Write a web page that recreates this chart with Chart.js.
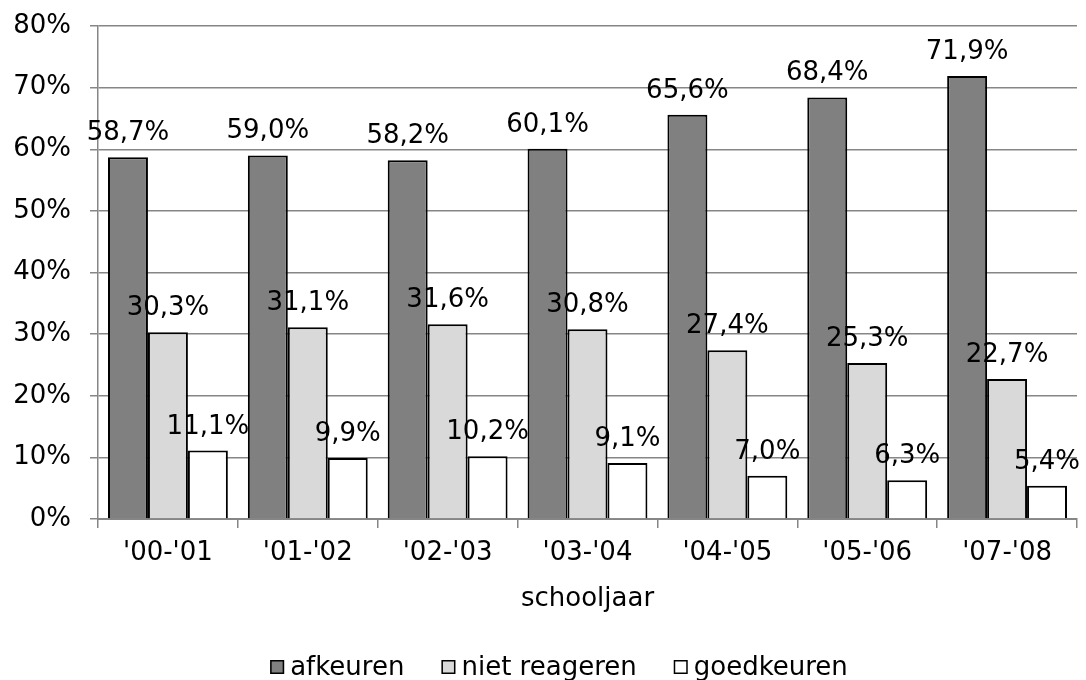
<!DOCTYPE html>
<html>
<head>
<meta charset="utf-8">
<script src="https://cdn.jsdelivr.net/npm/chart.js@4.4.1/dist/chart.umd.min.js"></script>
<style>
html,body{margin:0;padding:0;background:#fff;}
#wrap{width:1086px;height:680px;position:relative;}
</style>
</head>
<body>
<div id="wrap"><canvas id="c" width="1086" height="680"></canvas></div>
<script>
const categories = ["'00-'01", "'01-'02", "'02-'03", "'03-'04", "'04-'05", "'05-'06", "'07-'08"];
const afkeuren = [58.7, 59.0, 58.2, 60.1, 65.6, 68.4, 71.9];
const nietReageren = [30.3, 31.1, 31.6, 30.8, 27.4, 25.3, 22.7];
const goedkeuren = [11.1, 9.9, 10.2, 9.1, 7.0, 6.3, 5.4];
const seriesNames = ["afkeuren", "niet reageren", "goedkeuren"];
const xTitle = "schooljaar";

const FONT = "'DejaVu Sans', Verdana, sans-serif";
const FS = 26;

const labelPlugin = {
  id: 'valueLabels',
  afterDatasetsDraw(chart) {
    const ctx = chart.ctx;
    ctx.save();
    ctx.font = FS + 'px ' + FONT;
    ctx.fillStyle = '#000';
    ctx.textAlign = 'center';
    ctx.textBaseline = 'alphabetic';
    chart.data.datasets.forEach((ds, i) => {
      const meta = chart.getDatasetMeta(i);
      meta.data.forEach((bar, j) => {
        const v = ds.data[j];
        const txt = v.toFixed(1).replace('.', ',') + '%';
        ctx.fillText(txt, bar.x, bar.y - 17);
      });
    });
    ctx.restore();
  }
};

const legendPlugin = {
  id: 'customLegend',
  afterDraw(chart) {
    const ctx = chart.ctx;
    ctx.save();
    ctx.font = FS + 'px ' + FONT;
    const box = 14, gapBox = 6, gapItem = 37;
    const items = chart.data.datasets.map(ds => ({text: ds.label, fill: ds.backgroundColor, w: ctx.measureText(ds.label).width}));
    let total = 0;
    items.forEach((it, k) => { total += box + gapBox + it.w + (k < items.length - 1 ? gapItem : 0); });
    let x = 559 - total / 2;
    const base = 675;
    items.forEach(it => {
      ctx.fillStyle = it.fill;
      ctx.fillRect(x, base - 15, box, box);
      ctx.strokeStyle = '#000';
      ctx.lineWidth = 1.5;
      ctx.strokeRect(x + 0.75, base - 15 + 0.75, box - 1.5, box - 1.5);
      ctx.fillStyle = '#000';
      ctx.textAlign = 'left';
      ctx.textBaseline = 'alphabetic';
      ctx.fillText(it.text, x + box + gapBox, base);
      x += box + gapBox + it.w + gapItem;
    });
    ctx.restore();
  }
};

new Chart(document.getElementById('c'), {
  type: 'bar',
  data: {
    labels: categories,
    datasets: [
      {label: seriesNames[0], data: afkeuren, backgroundColor: '#808080', borderColor: '#000', borderWidth: 2},
      {label: seriesNames[1], data: nietReageren, backgroundColor: '#d9d9d9', borderColor: '#000', borderWidth: 2},
      {label: seriesNames[2], data: goedkeuren, backgroundColor: '#ffffff', borderColor: '#000', borderWidth: 2}
    ]
  },
  options: {
    responsive: false,
    animation: false,
    devicePixelRatio: 1,
    layout: {padding: {left: 0, right: 9, top: 26, bottom: 51}},
    datasets: {bar: {categoryPercentage: 0.857, barPercentage: 1.0}},
    plugins: {
      legend: {display: false},
      tooltip: {enabled: false}
    },
    scales: {
      x: {
        afterFit(s) { s.height = 110; s.paddingLeft = 0; s.paddingRight = 0; },
        grid: {display: true, drawOnChartArea: false, drawTicks: true, tickLength: 9, color: '#868686', lineWidth: 1.5, offset: true},
        border: {color: '#868686', width: 2},
        ticks: {font: {family: FONT, size: FS}, color: '#000', padding: 10},
        title: {display: true, text: xTitle, font: {family: FONT, size: FS}, color: '#000', padding: {top: 4, bottom: 14}}
      },
      y: {
        afterFit(s) { s.width = 98; s.paddingTop = 0; s.paddingBottom = 0; },
        min: 0, max: 80,
        ticks: {stepSize: 10, font: {family: FONT, size: FS}, color: '#000', padding: 19, callback: v => v + '%'},
        grid: {color: '#868686', lineWidth: 1.5, tickLength: 8},
        border: {color: '#868686', width: 1.5}
      }
    }
  },
  plugins: [labelPlugin, legendPlugin]
});
</script>
</body>
</html>
